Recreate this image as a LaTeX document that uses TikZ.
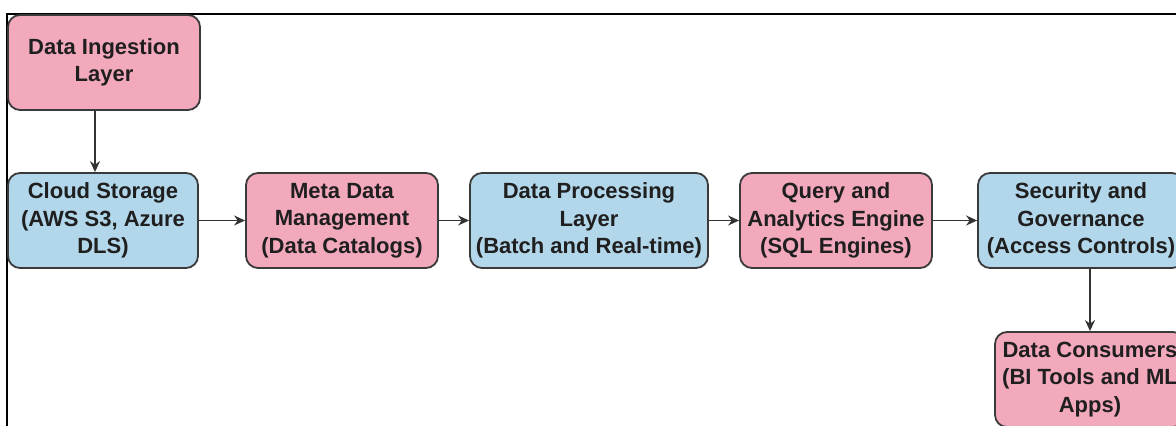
\documentclass[tikz,border=0pt]{standalone}
\usepackage{fontspec}
\setmainfont{Liberation Sans}
\usepackage{tikz}
\usetikzlibrary{arrows.meta}
\definecolor{layerpink}{HTML}{F3A9BC}
\definecolor{layerblue}{HTML}{B2D6EA}
\definecolor{layeredge}{HTML}{3A3A3A}

\tikzset{
  layer/.style={draw=layeredge, line width=0.9pt, rounded corners=6pt,
    minimum height=47.5pt, align=center, inner sep=1pt,
    font=\fontsize{11}{13.8}\selectfont\bfseries, text=black!88},
  pinklayer/.style={layer, fill=layerpink},
  bluelayer/.style={layer, fill=layerblue},
  flow/.style={->, draw=black!80, line width=0.75pt}
}

\begin{document}
\begin{tikzpicture}[>={Stealth[length=5.5pt,width=5pt]}]

\useasboundingbox (0,0) rectangle (588pt,-213pt);
\clip (0,0) rectangle (588pt,-213pt);

% frame
\draw[line width=0.8pt] (3.5pt,-213pt) -- (3.5pt,-7pt) -- (588pt,-7pt);

\node[pinklayer, minimum width=96pt] (ingest) at (52pt,-31.25pt) {Data Ingestion\\Layer};

\node[bluelayer, minimum width=95pt] (storage) at (51.5pt,-110.25pt) {Cloud Storage\\(AWS S3, Azure\\DLS)};
\node[pinklayer, minimum width=96pt] (meta) at (171pt,-110.25pt) {Meta Data\\Management\\(Data Catalogs)};
\node[bluelayer, minimum width=119pt] (process) at (294.5pt,-110.25pt) {Data Processing\\Layer\\(Batch and Real-time)};
\node[pinklayer, minimum width=96pt] (query) at (418pt,-110.25pt) {Query and\\Analytics Engine\\(SQL Engines)};
\node[bluelayer, minimum width=103pt] (secure) at (540.5pt,-110.25pt) {Security and\\Governance\\(Access Controls)};

\node[pinklayer, minimum width=95pt] (consumer) at (545pt,-189.75pt) {Data Consumers\\(BI Tools and ML\\Apps)};

\coordinate (ingestout) at ([xshift=-4.5pt]ingest.south);
\draw[flow] (ingestout) -- (ingestout |- storage.north);

\draw[flow] (storage) -- (meta);
\draw[flow] (meta) -- (process);
\draw[flow] (process) -- (query);
\draw[flow] (query) -- (secure);

\draw[flow] (consumer.north |- secure.south) -- (consumer.north);

\end{tikzpicture}
\end{document}
